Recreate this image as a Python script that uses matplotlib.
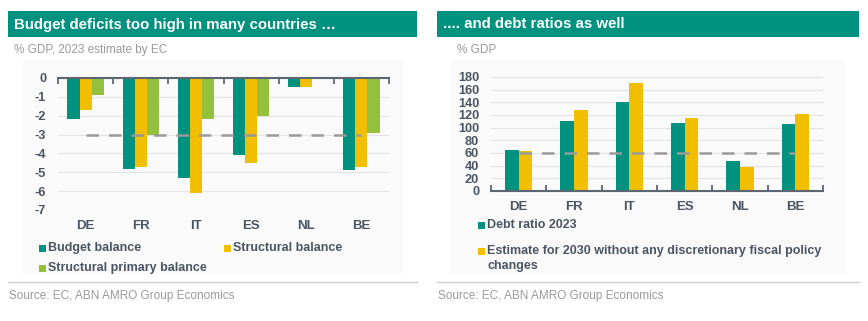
import matplotlib
matplotlib.use("Agg")
import matplotlib.pyplot as plt
from matplotlib.patches import Rectangle
import numpy as np

plt.rcParams["font.family"] = ["Liberation Sans", "DejaVu Sans"]

countries = ["DE", "FR", "IT", "ES", "NL", "BE"]

# left chart: balances, % GDP (2023, EC estimate)
budget_balance = [-2.2, -4.8, -5.3, -4.1, -0.5, -4.9]
structural_balance = [-1.7, -4.7, -6.1, -4.5, -0.5, -4.7]
structural_primary = [-0.9, -3.0, -2.2, -2.0, 0.0, -2.9]
deficit_limit = -3

# right chart: debt ratios, % GDP
debt_2023 = [65, 110, 140, 107, 47, 106]
debt_2030 = [63, 128, 171, 116, 38, 121]
debt_limit = 60

left_names = ["Budget balance", "Structural balance", "Structural primary balance"]
right_names = ["Debt ratio 2023",
               "Estimate for 2030 without any discretionary fiscal policy\nchanges"]

TEAL = "#00917f"
YELLOW = "#f2bf00"
GREEN = "#93c13d"
DARK = "#4a5563"
GREY = "#9a9a9a"

W, H = 868, 321
fig = plt.figure(figsize=(W / 100, H / 100), dpi=100)


def px(x, y):
    return x / W, 1 - y / H


def box(x0, y0, x1, y1, color, z=-1):
    fig.patches.append(Rectangle(px(x0, y1), (x1 - x0) / W, (y1 - y0) / H,
                                 transform=fig.transFigure, facecolor=color,
                                 edgecolor="none", zorder=z))


def axes_at(x0, y0, x1, y1):
    return fig.add_axes([x0 / W, 1 - y1 / H, (x1 - x0) / W, (y1 - y0) / H])


# panel frames: header bars, chart backgrounds, source rules
for (x0, x1, title, sub, subx) in [
        (8, 417, "Budget deficits too high in many countries …",
         "% GDP, 2023 estimate by EC", 14),
        (437, 859, ".... and debt ratios as well", "% GDP", 457)]:
    box(x0, 11, x1, 37, TEAL)
    fig.text(*px(x0 + 6, 24.5), title, color="white", fontsize=10.8,
             fontweight="bold", va="center", ha="left")
    fig.text(*px(subx, 50), sub, color=GREY, fontsize=8.5, va="center")
    box(x0 + 14, 60, x1 - 14, 274, "#fafafa", z=-2)
    fig.lines.append(plt.Line2D([x0 / W, x1 / W], [1 - 282 / H] * 2,
                                transform=fig.transFigure, color="#cfcfcf", lw=1))
    fig.text(*px(x0 + 1, 296), "Source: EC, ABN AMRO Group Economics",
             color=GREY, fontsize=8.5, va="center")

x = np.arange(len(countries))


def style_axes(ax):
    ax.set_facecolor("none")
    for s in ax.spines.values():
        s.set_visible(False)
    ax.grid(axis="y", color="#e3e3e3", lw=0.8)
    ax.set_axisbelow(True)
    ax.tick_params(axis="y", length=0, labelsize=9.2, labelcolor=DARK, pad=8.5)
    for lab in ax.get_yticklabels():
        lab.set_fontweight("bold")
    ax.set_xlim(-0.5, len(countries) - 0.5)
    ax.set_xticks(np.arange(len(countries) + 1) - 0.5)
    ax.set_xticklabels([])
    ax.tick_params(axis="x", length=4, width=1.3, color="#5b6672", direction="in")


# left chart
ax1 = axes_at(58, 78, 389, 210)
bw = 0.22
ax1.bar(x - bw, budget_balance, bw, color=TEAL)
ax1.bar(x, structural_balance, bw, color=YELLOW)
ax1.bar(x + bw, structural_primary, bw, color=GREEN)
ax1.plot([x[0], x[-1]], [deficit_limit] * 2, color=GREY, lw=1.8, dashes=(5, 4))
ax1.set_ylim(-7, 0)
ax1.set_yticks(range(-7, 1))
ax1.set_yticklabels([str(v) for v in range(-7, 1)])
style_axes(ax1)
ax1.spines["top"].set_visible(True)
ax1.spines["top"].set_color("#5b6672")
ax1.spines["top"].set_linewidth(1.5)
ax1.xaxis.set_ticks_position("top")
for i, c in enumerate(countries):
    ax1.text(i, -7.85, c, ha="center", va="center", fontsize=9.5,
             fontweight="bold", color=DARK)

# right chart
ax2 = axes_at(491, 77, 823, 191)
bw2 = 0.245
ax2.bar(x - bw2 / 2, debt_2023, bw2, color=TEAL)
ax2.bar(x + bw2 / 2, debt_2030, bw2, color=YELLOW)
ax2.plot([x[0], x[-1]], [debt_limit] * 2, color=GREY, lw=1.8, dashes=(5, 4))
ax2.set_ylim(0, 180)
ax2.set_yticks(range(0, 181, 20))
ax2.set_yticklabels([str(v) for v in range(0, 181, 20)])
style_axes(ax2)
ax2.spines["bottom"].set_visible(True)
ax2.spines["bottom"].set_color("#5b6672")
ax2.spines["bottom"].set_linewidth(1.5)
for i, c in enumerate(countries):
    ax2.text(i, -25, c, ha="center", va="center", fontsize=9.5,
             fontweight="bold", color=DARK)


# legends
def legend_item(xm, y, color, label):
    box(xm, y - 3.5, xm + 7, y + 3.5, color, z=2)
    fig.text(*px(xm + 9, y), label, color=DARK, fontsize=9, fontweight="bold",
             va="center", ha="left", linespacing=1.3)


legend_item(39, 248, TEAL, left_names[0])
legend_item(224, 248, YELLOW, left_names[1])
legend_item(39, 268, GREEN, left_names[2])
legend_item(478, 225, TEAL, right_names[0])
box(478, 251 - 3.5, 485, 251 + 3.5, YELLOW, z=2)
fig.text(*px(487, 258.5), right_names[1], color=DARK, fontsize=9,
         fontweight="bold", va="center", ha="left", linespacing=1.25)

fig.savefig("out.png", dpi=100)
